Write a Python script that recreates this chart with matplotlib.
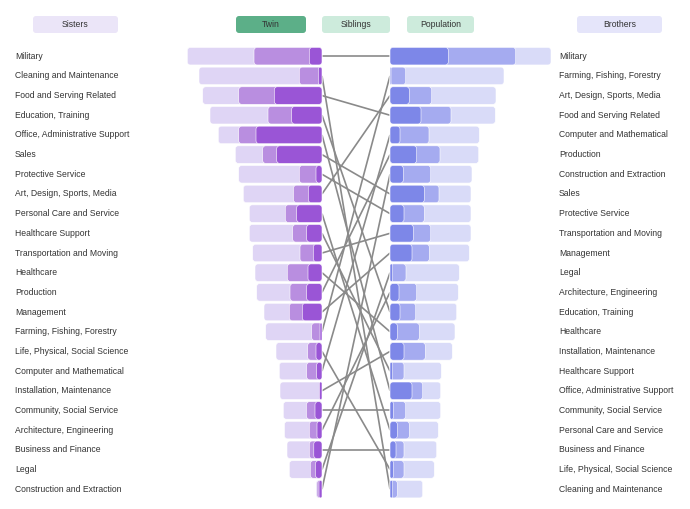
import matplotlib.pyplot as plt
from matplotlib.patches import FancyBboxPatch

plt.rcParams['font.family'] = ['Liberation Sans', 'DejaVu Sans']

sister_jobs = ["Military", "Cleaning and Maintenance", "Food and Serving Related",
               "Education, Training", "Office, Administrative Support", "Sales",
               "Protective Service", "Art, Design, Sports, Media", "Personal Care and Service",
               "Healthcare Support", "Transportation and Moving", "Healthcare", "Production",
               "Management", "Farming, Fishing, Forestry", "Life, Physical, Social Science",
               "Computer and Mathematical", "Installation, Maintenance",
               "Community, Social Service", "Architecture, Engineering",
               "Business and Finance", "Legal", "Construction and Extraction"]
sister_pop = [134.7, 123, 119.3, 112, 103.7, 86.7, 83.3, 78.7, 72.7, 72.7, 69.3, 67, 65.3,
              58, 56.3, 46, 42.7, 42, 38.7, 37.5, 35, 32.7, 6]
sister_sib = [68, 22.7, 83.3, 54, 83.3, 59.3, 22.7, 28.5, 36.7, 29.3, 22, 34.7, 32,
              32.7, 10.3, 14.3, 15.3, 2.5, 15.5, 12.7, 12.7, 11.7, 5]
sister_twin = [12.7, 3.7, 47.7, 30.3, 66, 45.3, 6, 13.7, 25.3, 15.3, 8.7, 14, 15.3,
               19.7, 2, 6, 5.3, 2.7, 7, 5, 8.2, 6.5, 3]

brother_jobs = ["Military", "Farming, Fishing, Forestry", "Art, Design, Sports, Media",
                "Food and Serving Related", "Computer and Mathematical", "Production",
                "Construction and Extraction", "Sales", "Protective Service",
                "Transportation and Moving", "Management", "Legal",
                "Architecture, Engineering", "Education, Training", "Healthcare",
                "Installation, Maintenance", "Healthcare Support",
                "Office, Administrative Support", "Community, Social Service",
                "Personal Care and Service", "Business and Finance",
                "Life, Physical, Social Science", "Cleaning and Maintenance"]
brother_pop = [161, 114, 106, 105.3, 89.3, 88.7, 82, 81, 81, 81, 79.3, 69.3, 68.3, 66.7,
               65, 62.3, 51.3, 50.7, 50.7, 48.3, 46.7, 44.3, 32.7]
brother_sib = [125.7, 15.7, 41.7, 61, 39, 50, 40.7, 49, 34.3, 40.7, 39.3, 16, 26.7, 25.7,
               29.3, 35.3, 14, 32.7, 15.7, 19.3, 14, 14, 7.3]
brother_twin = [58.3, 1, 19.3, 31, 10, 26.7, 13.3, 34.3, 14, 23.3, 22, 2.7, 9, 10,
                7.3, 14, 2.7, 22, 3.3, 7.3, 6, 3.3, 2.7]

legend_labels = ["Sisters", "Twin", "Siblings", "Population", "Brothers"]

# colours: population, siblings, twin
sis_colors = ["#dfd5f5", "#b98ee0", "#9a55d6"]
bro_colors = ["#d9dbf8", "#a5abf0", "#7d87e8"]

fig = plt.figure(figsize=(6.9, 5.09), dpi=100)
ax = fig.add_axes([0, 0, 1, 1])
ax.set_xlim(0, 690)
ax.set_ylim(509, 0)
ax.axis('off')

left0 = 322
right0 = 390
top = 56.2
step = 19.68
bh = 17.5


def row_y(i):
    return top + i * step


def rbar(x, y, w, h, color, z=2):
    if w <= 0:
        return
    rs = min(3, w / 2)
    ax.add_patch(FancyBboxPatch((x, y - h / 2), w, h,
                                boxstyle=f"round,pad=0,rounding_size={rs}",
                                fc=color, ec='white', lw=0.4, zorder=z))


for i, job in enumerate(sister_jobs):
    y = row_y(i)
    for k, vals in enumerate([sister_pop, sister_sib, sister_twin]):
        rbar(left0 - vals[i], y, vals[i], bh, sis_colors[k], 2 + k)
    ax.text(15, y, job, ha='left', va='center', fontsize=6.2, color='#333333')
    j = brother_jobs.index(job)
    ax.plot([left0, right0], [y, row_y(j)], color='#8a8a8a', lw=1.2, zorder=1,
            solid_capstyle='butt')

for i, job in enumerate(brother_jobs):
    y = row_y(i)
    for k, vals in enumerate([brother_pop, brother_sib, brother_twin]):
        rbar(right0, y, vals[i], bh, bro_colors[k], 2 + k)
    ax.text(559, y, job, ha='left', va='center', fontsize=6.2, color='#333333')

# header boxes
box_x = [33, 236, 322, 407, 577]
box_w = [85, 70, 68, 67, 85]
box_fc = ["#ebe5f8", "#5caf88", "#cdebdc", "#cdebdc", "#e5e5fa"]
for lab, bx, bw, fc in zip(legend_labels, box_x, box_w, box_fc):
    ax.add_patch(FancyBboxPatch((bx, 16), bw, 17,
                                boxstyle="round,pad=0,rounding_size=3",
                                fc=fc, ec='none'))
    ax.text(bx + bw / 2, 24.5, lab, ha='center', va='center', fontsize=6.2,
            color='#333333')

fig.savefig('out.png', dpi=100)
